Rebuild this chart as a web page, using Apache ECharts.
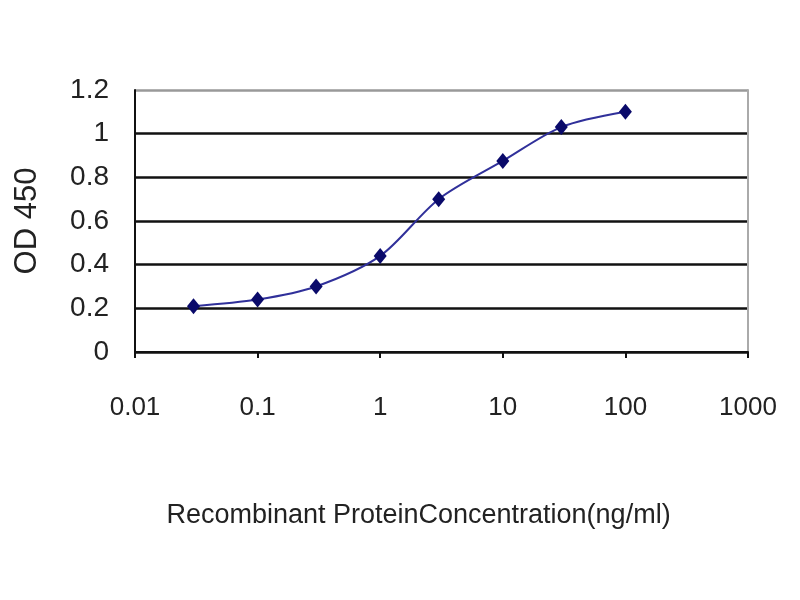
<!DOCTYPE html>
<html>
<head>
<meta charset="utf-8">
<script src="https://cdn.jsdelivr.net/npm/echarts@6/dist/echarts.min.js"></script>
<style>
  html, body { margin: 0; padding: 0; background: #fff; }
  #chart { width: 800px; height: 600px; }
</style>
</head>
<body>
<div id="chart"></div>
<script>
// concentration (ng/ml) vs OD 450
var concentrations = [0.03, 0.1, 0.3, 1, 3, 10, 30, 100];
var odValues = [0.21, 0.24, 0.30, 0.44, 0.70, 0.875, 1.03, 1.10];
var xTitle = 'Recombinant ProteinConcentration(ng/ml)';
var yTitle = 'OD 450';

var font = '"Liberation Sans", Arial, sans-serif';

var points = concentrations.map(function (c, i) { return [c, odValues[i]]; });

var chart = echarts.init(document.getElementById('chart'));
chart.setOption({
  backgroundColor: '#ffffff',
  animation: false,
  grid: { left: 135, right: 52, top: 90, bottom: 248 },
  xAxis: {
    type: 'log',
    logBase: 10,
    min: 0.01,
    max: 1000,
    name: xTitle,
    nameLocation: 'middle',
    nameGap: 150,
    nameTextStyle: { fontFamily: font, fontSize: 27, color: '#222', padding: [0, 46, 0, 0] },
    axisLine: { lineStyle: { color: '#111', width: 2 } },
    axisTick: { show: true, length: 6, lineStyle: { color: '#111', width: 2 } },
    minorTick: { show: false },
    splitLine: { show: false },
    axisLabel: {
      margin: 43, fontFamily: font, fontSize: 26, color: '#222',
      formatter: function (v) { return String(v); }
    }
  },
  yAxis: [{
    type: 'value',
    min: 0,
    max: 1.2,
    interval: 0.2,
    name: yTitle,
    nameLocation: 'middle',
    nameGap: 92,
    nameRotate: 90,
    nameTextStyle: { fontFamily: font, fontSize: 31, color: '#222' },
    axisLine: { show: true, lineStyle: { color: '#111', width: 2 } },
    axisTick: { show: false },
    splitLine: {
      show: true,
      lineStyle: { color: ['#111', '#111', '#111', '#111', '#111', '#111', '#999'], width: 2.5 }
    },
    axisLabel: {
      margin: 26, fontFamily: font, fontSize: 28, color: '#222',
      formatter: function (v) { return String(Math.round(v * 10) / 10); }
    }
  }, {
    type: 'value',
    position: 'right',
    min: 0,
    max: 1.2,
    axisLine: { show: true, lineStyle: { color: '#aaa', width: 2 } },
    axisTick: { show: false },
    axisLabel: { show: false },
    splitLine: { show: false }
  }],
  series: [{
    type: 'line',
    data: points,
    smooth: 0.3,
    symbol: 'diamond',
    symbolSize: [13, 16],
    itemStyle: { color: '#0a0a6a' },
    lineStyle: { color: '#30309a', width: 2 }
  }]
});
</script>
</body>
</html>
